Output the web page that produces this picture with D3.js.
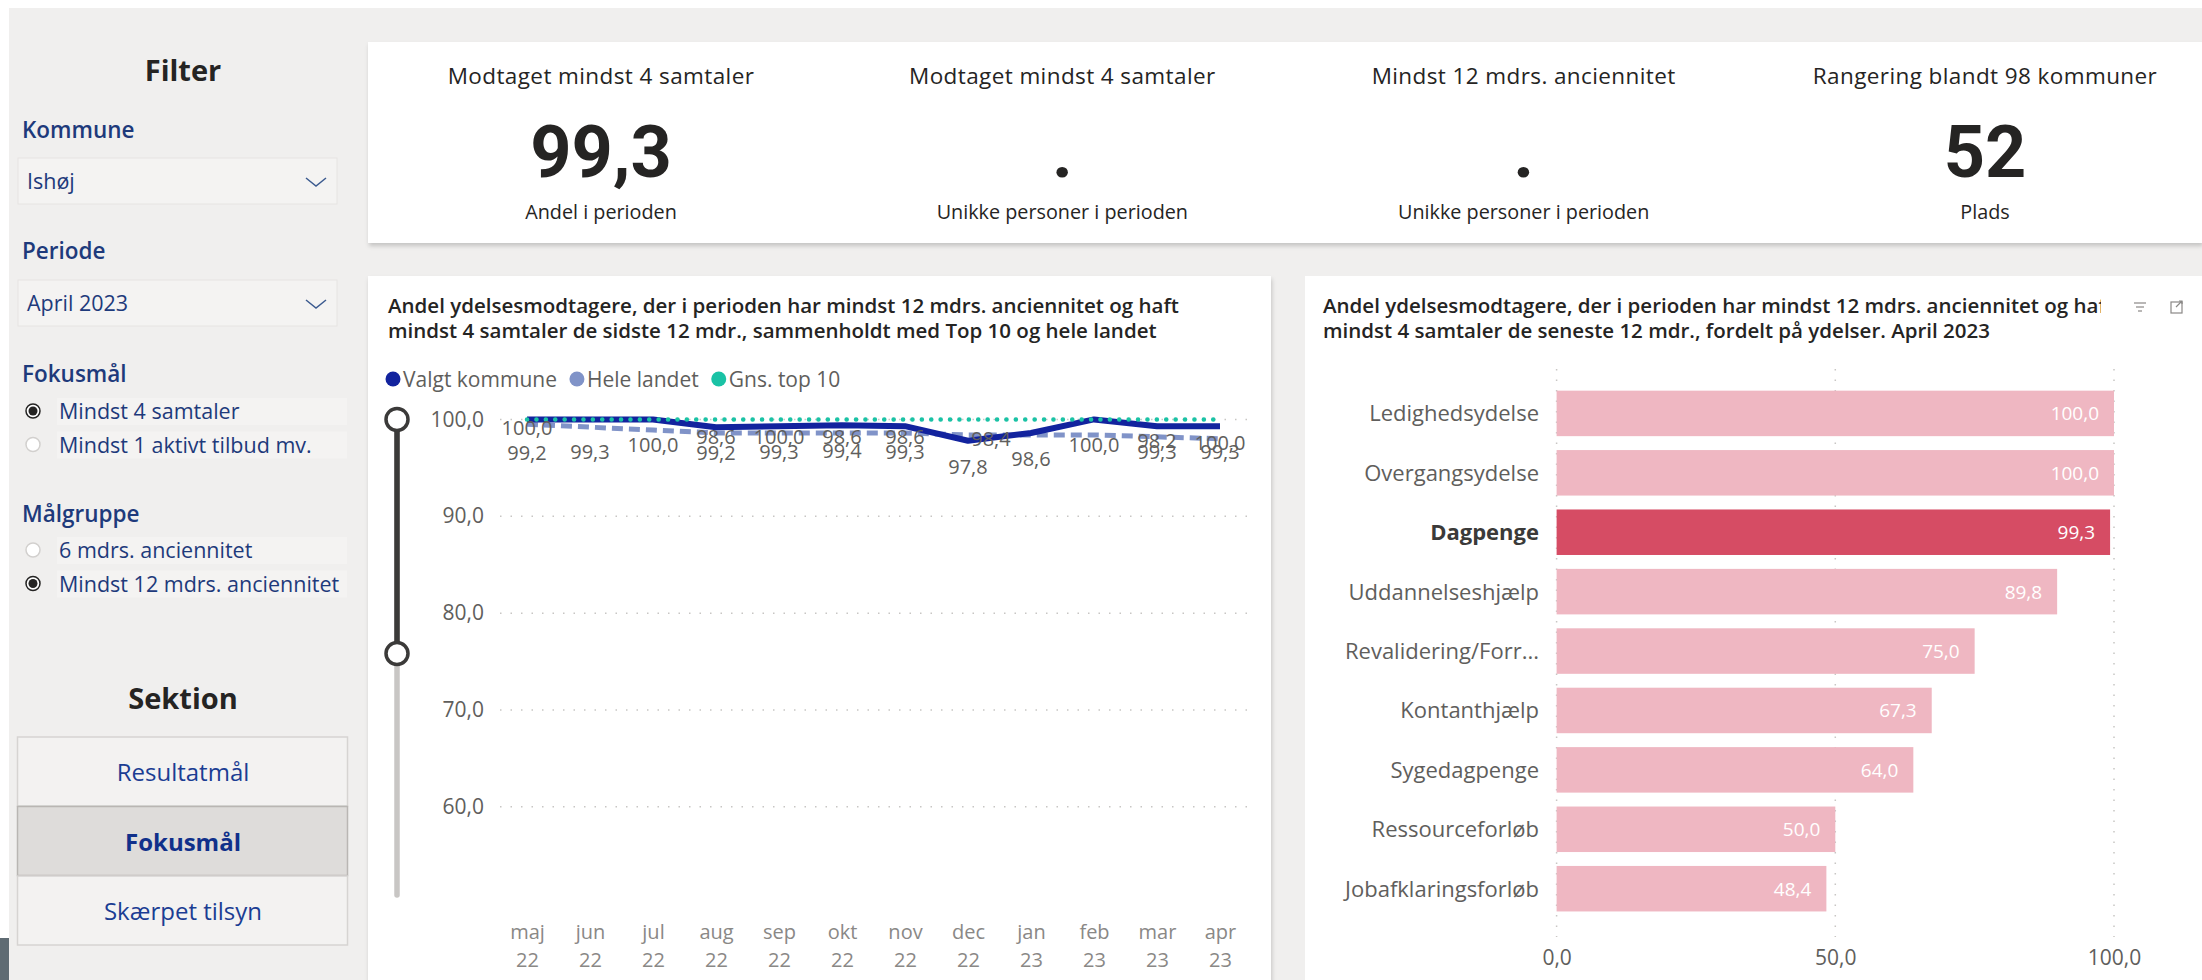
<!DOCTYPE html>
<html>
<head>
<meta charset="utf-8">
<script src="https://cdn.jsdelivr.net/npm/d3@7"></script>
<style>
  body { margin: 0; background: #fff; }
  svg { display: block; }
  .seg { font-family: "Open Sans", "Noto Sans", sans-serif; }
  .din { font-family: "Open Sans", Roboto, sans-serif; }
</style>
</head>
<body>
<svg id="page" width="2202" height="980"></svg>
<script>
// --- data ---
const months = ["maj","jun","jul","aug","sep","okt","nov","dec","jan","feb","mar","apr"];
const years  = ["22","22","22","22","22","22","22","22","23","23","23","23"];
const valgtKommune = [100.0,100.0,100.0,99.2,99.3,99.4,99.3,97.8,98.6,100.0,99.3,99.3];
const heleLandet   = [99.5,99.2,98.9,98.6,98.6,98.6,98.6,98.4,98.4,98.4,98.2,98.0];
const gnsTop10     = [100.0,100.0,100.0,100.0,100.0,100.0,100.0,100.0,100.0,100.0,100.0,100.0];
const lowerLabels  = [99.2,99.3,100.0,99.2,99.3,99.4,99.3,97.8,98.6,100.0,99.3,99.3];
const upperLabels  = [100.0,null,null,98.6,100.0,98.6,98.6,98.4,null,null,98.2,100.0];
const yTicks = [60,70,80,90,100];
const seriesNames = ["Valgt kommune","Hele landet","Gns. top 10"];

const ydelser = ["Ledighedsydelse","Overgangsydelse","Dagpenge","Uddannelseshjælp",
                 "Revalidering/Forr...","Kontanthjælp","Sygedagpenge","Ressourceforløb","Jobafklaringsforløb"];
const ydelseValues = [100.0,100.0,99.3,89.8,75.0,67.3,64.0,50.0,48.4];
const selectedYdelse = "Dagpenge";
const barTicks = [0,50,100];

const kpiTitles = ["Modtaget mindst 4 samtaler","Modtaget mindst 4 samtaler","Mindst 12 mdrs. anciennitet","Rangering blandt 98 kommuner"];
const kpiValues = ["99,3",".",".","52"];
const kpiSubs   = ["Andel i perioden","Unikke personer i perioden","Unikke personer i perioden","Plads"];

const fokusOptions = ["Mindst 4 samtaler","Mindst 1 aktivt tilbud mv."];
const maalOptions  = ["6 mdrs. anciennitet","Mindst 12 mdrs. anciennitet"];
const sektioner = ["Resultatmål","Fokusmål","Skærpet tilsyn"];

const lineTitle = ["Andel ydelsesmodtagere, der i perioden har mindst 12 mdrs. anciennitet og haft",
                   "mindst 4 samtaler de sidste 12 mdr., sammenholdt med Top 10 og hele landet"];
const barTitle = ["Andel ydelsesmodtagere, der i perioden har mindst 12 mdrs. anciennitet og haft",
                  "mindst 4 samtaler de seneste 12 mdr., fordelt på ydelser. April 2023"];

const da = d3.formatLocale({decimal: ",", thousands: ".", grouping: [3], currency: ["", " kr."]});
const fmt = da.format(".1f");

const navy = "#12239E", periwinkle = "#8093C8", teal = "#1AC2A5";
const pinkLight = "#EFB7C2", pinkDark = "#D64C64";
const blueText = "#1E3A7B";

function init(){
  const svg = d3.select("#page");
  const defs = svg.append("defs");
  const sh = defs.append("filter").attr("id","shadow").attr("x","-5%").attr("y","-5%").attr("width","110%").attr("height","120%");
  sh.append("feDropShadow").attr("dx",1).attr("dy",3).attr("stdDeviation",2).attr("flood-color","#000").attr("flood-opacity",.18);
  defs.append("clipPath").attr("id","barTitleClip").append("rect")
    .attr("x",1305).attr("y",280).attr("width",796).attr("height",70);

  // page
  svg.append("rect").attr("x",9).attr("y",8).attr("width",2193).attr("height",972).attr("fill","#F0EFEE");
  svg.append("rect").attr("x",0).attr("y",938).attr("width",9).attr("height",42).attr("fill","#5F6B73");

  drawFilter(svg);
  drawKpis(svg);
  drawLine(svg);
  drawBars(svg);
}

function drawFilter(svg){
  const g = svg.append("g").attr("class","seg");
  g.append("text").attr("x",183).attr("y",81).attr("text-anchor","middle")
    .attr("font-size",29).attr("font-weight",700).attr("fill","#252423").text("Filter");

  const heads = [["Kommune",130],["Periode",251],["Fokusmål",374],["Målgruppe",514]];
  heads.forEach(h => g.append("text").attr("x",22).attr("y",h[1]+8).attr("font-size",22.5)
    .attr("font-weight",600).attr("fill",blueText).text(h[0]));

  [["Ishøj",158],["April 2023",280]].forEach(d => {
    g.append("rect").attr("x",18).attr("y",d[1]).attr("width",319).attr("height",46)
      .attr("fill","#F4F3F2").attr("stroke","#E6E4E2");
    g.append("text").attr("x",27).attr("y",d[1]+31).attr("font-size",21.5).attr("fill",blueText).text(d[0]);
    g.append("path").attr("d",`M${306},${d[1]+20} L${316},${d[1]+28} L${326},${d[1]+20}`)
      .attr("fill","none").attr("stroke","#3B5A8F").attr("stroke-width",1.5);
  });

  function radios(opts, y0, sel){
    opts.forEach((o,i) => {
      const y = y0 + i*33.5;
      g.append("rect").attr("x",57).attr("y",y-13).attr("width",290).attr("height",27).attr("fill","#F4F3F2");
      g.append("circle").attr("cx",33).attr("cy",y).attr("r",7)
        .attr("fill","#fff").attr("stroke", i===sel ? "#252423" : "#D2D0CE").attr("stroke-width",1.5);
      if (i===sel) g.append("circle").attr("cx",33).attr("cy",y).attr("r",4.5).attr("fill","#252423");
      g.append("text").attr("x",59).attr("y",y+8).attr("font-size",21.5).attr("fill",blueText).text(o);
    });
  }
  radios(fokusOptions, 411, 0);
  radios(maalOptions, 550, 1);

  g.append("text").attr("x",183).attr("y",709).attr("text-anchor","middle")
    .attr("font-size",29).attr("font-weight",700).attr("fill","#252423").text("Sektion");
  sektioner.forEach((s,i) => {
    const y = 737 + i*69.5;
    const on = s === "Fokusmål";
    g.append("rect").attr("x",17.5).attr("y",y).attr("width",330).attr("height",69)
      .attr("fill", on ? "#DEDCDA" : "#F3F2F1").attr("stroke", on ? "#B9B6B3" : "#D6D4D2").attr("stroke-width",1.5);
    g.append("text").attr("x",183).attr("y",y+44).attr("text-anchor","middle").attr("font-size",24)
      .attr("font-weight", on ? 700 : 400).attr("fill", on ? "#10308A" : "#1B3D93").text(s);
  });
}

function drawKpis(svg){
  svg.append("rect").attr("x",368).attr("y",42).attr("width",1834).attr("height",201)
    .attr("fill","#fff").attr("filter","url(#shadow)");
  const cx = d3.scalePoint().domain(d3.range(kpiTitles.length)).range([601,1985]);
  const g = svg.append("g").attr("class","din").attr("text-anchor","middle").attr("fill","#252423");
  kpiTitles.forEach((t,i) => {
    g.append("text").attr("x",cx(i)).attr("y",84).attr("font-size",22.5).attr("letter-spacing",0.4).text(t);
    g.append("text").attr("x",cx(i)).attr("y",177).attr("font-family","Roboto, sans-serif")
      .attr("font-size",72).attr("font-weight",700).text(kpiValues[i]);
    g.append("text").attr("x",cx(i)).attr("y",219).attr("font-size",19.8).text(kpiSubs[i]);
  });
}

function drawLine(svg){
  svg.append("rect").attr("x",368).attr("y",276).attr("width",903).attr("height",710)
    .attr("fill","#fff").attr("filter","url(#shadow)");
  const g = svg.append("g");
  lineTitle.forEach((t,i) => g.append("text").attr("class","din").attr("x",388).attr("y",313+i*25)
    .attr("font-size",20.5).attr("font-weight",600).attr("fill","#252423").text(t));

  // legend
  const leg = g.append("g").attr("class","seg").attr("font-size",21).attr("fill","#605E5C");
  const legColors = [navy, periwinkle, teal];
  let lx = 393;
  seriesNames.forEach((n,i) => {
    leg.append("circle").attr("cx",lx).attr("cy",379).attr("r",7.5).attr("fill",legColors[i]);
    const t = leg.append("text").attr("x",lx+10).attr("y",386.5).text(n);
    lx += 10 + t.node().getComputedTextLength() + 20;
  });

  const x = d3.scalePoint().domain(months).range([527,1220]);
  const y = d3.scaleLinear().domain([50.9,100]).range([895,419.4]);

  // slider
  g.append("line").attr("x1",397).attr("x2",397).attr("y1",y(100)).attr("y2",895)
    .attr("stroke","#C8C6C4").attr("stroke-width",5.5).attr("stroke-linecap","round");
  g.append("line").attr("x1",397).attr("x2",397).attr("y1",y(100)).attr("y2",653.5)
    .attr("stroke","#3B3A39").attr("stroke-width",5.5);
  [y(100),653.5].forEach(cy => g.append("circle").attr("cx",397).attr("cy",cy).attr("r",11)
    .attr("fill","#fff").attr("stroke","#3B3A39").attr("stroke-width",3.5));

  // grid + axis
  g.append("g").selectAll("line").data(yTicks).join("line")
    .attr("x1",500).attr("x2",1250).attr("y1",d=>y(d)).attr("y2",d=>y(d))
    .attr("stroke","#C8C6C4").attr("stroke-width",1.5).attr("stroke-dasharray","1.5,9");
  const ya = g.append("g").attr("transform","translate(484,0)")
    .call(d3.axisLeft(y).tickValues(yTicks).tickFormat(fmt).tickSize(0).tickPadding(0));
  ya.select(".domain").remove();
  ya.selectAll("text").attr("class","seg").attr("font-size",21).attr("fill","#605E5C");

  const xa = g.append("g").attr("transform","translate(0,920)")
    .call(d3.axisBottom(x).tickSize(0).tickFormat(""));
  xa.select(".domain").remove();
  xa.selectAll(".tick").each(function(d,i){
    const t = d3.select(this).append("text").attr("class","seg").attr("text-anchor","middle")
      .attr("font-size",20).attr("fill","#8A8886");
    t.append("tspan").attr("x",0).attr("y",19).text(d);
    t.append("tspan").attr("x",0).attr("y",47).text(years[i]);
  });

  const line = d3.line().x((d,i)=>x(months[i])).y(d=>y(d));
  g.append("path").datum(heleLandet).attr("d",line).attr("fill","none")
    .attr("stroke",periwinkle).attr("stroke-width",5).attr("stroke-dasharray","11,6");
  g.append("path").datum(valgtKommune).attr("d",line).attr("fill","none")
    .attr("stroke",navy).attr("stroke-width",6).attr("stroke-linejoin","round");
  g.append("path").datum(gnsTop10).attr("d",line).attr("fill","none")
    .attr("stroke",teal).attr("stroke-width",4.5).attr("stroke-linecap","round").attr("stroke-dasharray","0.1,9.3");

  const lab = g.append("g").attr("class","seg").attr("font-size",20).attr("text-anchor","middle").attr("fill","#605E5C");
  lab.selectAll("text.lo").data(lowerLabels).join("text").attr("class","lo")
    .attr("x",(d,i)=>x(months[i])).attr("y",d=>y(d)+33).text(d=>fmt(d));
  lab.selectAll("text.up").data(upperLabels.map((v,i)=>({v,i})).filter(d=>d.v!==null)).join("text").attr("class","up")
    .attr("x",d=>x(months[d.i]) + (d.i===7 ? 23 : 0)).attr("y",d=>y(heleLandet[d.i])+11).text(d=>fmt(d.v));
}

function drawBars(svg){
  svg.append("rect").attr("x",1305).attr("y",276).attr("width",897).attr("height",710).attr("fill","#fff");
  const g = svg.append("g");
  const tg = g.append("g").attr("clip-path","url(#barTitleClip)");
  barTitle.forEach((t,i) => tg.append("text").attr("class","din").attr("x",1323).attr("y",313+i*25)
    .attr("font-size",20.5).attr("font-weight",600).attr("fill","#252423").text(t));
  // header icons
  const ic = g.append("g").attr("stroke","#8A8886").attr("stroke-width",1.2).attr("fill","none");
  [[2134,2146],[2136,2144],[2138,2142]].forEach((d,i)=>ic.append("line").attr("x1",d[0]).attr("x2",d[1])
    .attr("y1",303+i*4).attr("y2",303+i*4));
  ic.append("rect").attr("x",2171).attr("y",302).attr("width",11).attr("height",11);
  ic.append("path").attr("d","M2176,307 L2182,301 M2179,301 L2182,301 L2182,304");

  const x = d3.scaleLinear().domain([0,100]).range([1556.6,2114]);
  const yb = d3.scaleBand().domain(ydelser).range([383.7,918.4]).paddingInner(0.234).paddingOuter(0.117);

  g.append("g").selectAll("line").data(barTicks).join("line")
    .attr("x1",d=>x(d)).attr("x2",d=>x(d)).attr("y1",369).attr("y2",937)
    .attr("stroke","#C8C6C4").attr("stroke-width",1.5).attr("stroke-dasharray","1.5,9");
  const xa = g.append("g").attr("transform","translate(0,945)")
    .call(d3.axisBottom(x).tickValues(barTicks).tickFormat(fmt).tickSize(0).tickPadding(0));
  xa.select(".domain").remove();
  xa.selectAll("text").attr("class","seg").attr("font-size",21).attr("fill","#605E5C").attr("dy","0.95em");

  g.append("g").selectAll("rect").data(ydelser).join("rect")
    .attr("x",x(0)).attr("y",d=>yb(d)).attr("height",yb.bandwidth())
    .attr("width",(d,i)=>x(ydelseValues[i])-x(0))
    .attr("fill",d=> d===selectedYdelse ? pinkDark : pinkLight);

  const cat = g.append("g").attr("class","seg").attr("font-size",22).attr("text-anchor","end");
  cat.selectAll("text").data(ydelser).join("text")
    .attr("x",1539).attr("y",d=>yb(d)+yb.bandwidth()/2+8)
    .attr("font-weight",d=> d===selectedYdelse ? 700 : 400)
    .attr("fill",d=> d===selectedYdelse ? "#3B3A39" : "#605E5C").text(d=>d);

  const val = g.append("g").attr("class","seg").attr("font-size",19).attr("text-anchor","end").attr("fill","#fff");
  val.selectAll("text").data(ydelser).join("text")
    .attr("x",(d,i)=>x(ydelseValues[i])-15).attr("y",d=>yb(d)+yb.bandwidth()/2+7)
    .text((d,i)=>fmt(ydelseValues[i]));
}

window.addEventListener("load", init);
</script>
</body>
</html>
